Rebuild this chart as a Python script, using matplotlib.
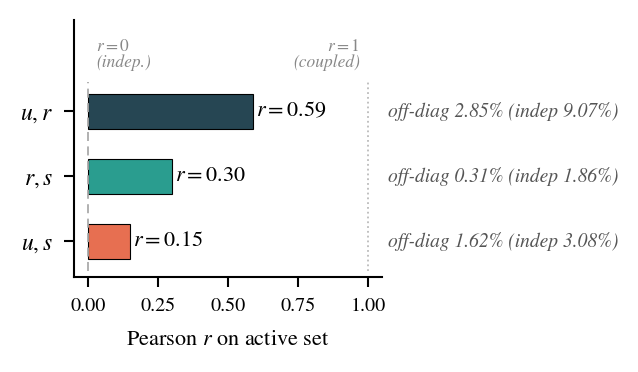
import matplotlib
matplotlib.use("Agg")
import matplotlib.pyplot as plt
import numpy as np

plt.rcParams['font.family'] = ['STIXGeneral', 'Liberation Serif', 'DejaVu Serif']
plt.rcParams['mathtext.fontset'] = 'stix'

pairs = ["$u, s$", "$r, s$", "$u, r$"]
pearson_r = [0.15, 0.30, 0.59]
off_diag = [1.62, 0.31, 2.85]
indep = [3.08, 1.86, 9.07]
colors = ['#e76f51', '#2a9d8f', '#264653']

fig, ax = plt.subplots(figsize=(6.38, 3.72), dpi=100)
fig.subplots_adjust(left=0.116, right=0.599, top=0.946, bottom=0.255)

y = np.arange(len(pairs))
ax.barh(y, pearson_r, height=0.54, color=colors, edgecolor='black', linewidth=0.8, zorder=2)

# reference lines at r=0 and r=1
ax.vlines(0, -0.45, 2.45, colors='#aaaaaa', linestyles=(0, (5, 3)), linewidth=1.3, zorder=3)
ax.vlines(1, -0.45, 2.45, colors='#bbbbbb', linestyles=':', linewidth=1.3, zorder=1)

for yi, v in zip(y, pearson_r):
    ax.text(v + 0.01, yi, "$r = %.2f$" % v, va='center', ha='left', fontsize=16)

for yi, od, ind in zip(y, off_diag, indep):
    ax.text(1.07, yi, "off-diag %.2f%% (indep %.2f%%)" % (od, ind), va='center', ha='left',
            fontsize=14, style='italic', color='#555555', clip_on=False)

ax.text(0.03, 2.87, "$r = 0$\n(indep.)", ha='left', va='center', fontsize=12.5,
        style='italic', color='#888888', linespacing=1.0)
ax.text(0.97, 2.87, "$r = 1$\n(coupled)", ha='right', va='center', fontsize=12.5,
        style='italic', color='#888888', linespacing=1.0, multialignment='right')

ax.set_yticks(y)
ax.set_yticklabels(pairs, fontsize=17)
ax.set_xlim(-0.05, 1.05)
ax.set_ylim(-0.55, 3.4)
ax.set_xticks([0, 0.25, 0.5, 0.75, 1.0])
ax.set_xticklabels(["0.00", "0.25", "0.50", "0.75", "1.00"], fontsize=14.5)
ax.set_xlabel("Pearson $r$ on active set", fontsize=16, labelpad=11)

for s in ['top', 'right']:
    ax.spines[s].set_visible(False)
for s in ['left', 'bottom']:
    ax.spines[s].set_linewidth(1.5)
ax.tick_params(width=1.5, length=7, pad=8)

plt.savefig('out.png', dpi=100)
